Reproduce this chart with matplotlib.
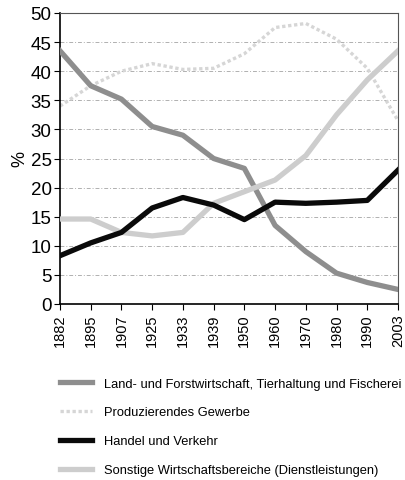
import matplotlib
matplotlib.use('Agg')
import matplotlib.pyplot as plt
import numpy as np

plt.rcParams['font.family'] = ['Liberation Sans', 'DejaVu Sans']

# Jahre (kategoriale x-Achse)
years = ['1882', '1895', '1907', '1925', '1933', '1939',
         '1950', '1960', '1970', '1980', '1990', '2003']

# Anteile der Wirtschaftsbereiche in %
land = [43.5, 37.5, 35.2, 30.5, 29.0, 25.0, 23.3, 13.5, 9.0, 5.3, 3.7, 2.5]
produzierend = [34.0, 37.5, 40.0, 41.3, 40.3, 40.5, 43.0, 47.5, 48.2, 45.5, 40.5, 31.5]
handel = [8.3, 10.5, 12.3, 16.5, 18.3, 17.0, 14.5, 17.5, 17.3, 17.5, 17.8, 23.0]
sonstige = [14.6, 14.6, 12.3, 11.7, 12.3, 17.3, 19.3, 21.3, 25.5, 32.5, 38.5, 43.5]

labels = ['Land- und Forstwirtschaft, Tierhaltung und Fischerei',
          'Produzierendes Gewerbe',
          'Handel und Verkehr',
          'Sonstige Wirtschaftsbereiche (Dienstleistungen)']

fig = plt.figure(figsize=(4.06, 4.81), dpi=100)
ax = fig.add_axes([60 / 406, 1 - 305 / 481, 338 / 406, 291 / 481])

x = np.arange(len(years))

# Gitterlinien
for yv in range(5, 51, 5):
    ax.axhline(yv, color='#b0b0b0', lw=0.7, ls=(0, (4, 2, 1, 2)), zorder=1)

l1, = ax.plot(x, land, color='#8e8e8e', lw=3.8, solid_joinstyle='round', zorder=3)
l2, = ax.plot(x, produzierend, color='#d6d6d6', lw=2.4, ls=(0, (1, 0.8)), zorder=2)
l3, = ax.plot(x, handel, color='#0a0a0a', lw=3.8, solid_joinstyle='round', zorder=4)
l4, = ax.plot(x, sonstige, color='#cdcdcd', lw=3.8, solid_joinstyle='round', zorder=3)

ax.set_xlim(0, len(years) - 1)
ax.set_ylim(0, 50)
ax.set_yticks(range(0, 51, 5))
ax.set_xticks(x)
ax.set_xticklabels(years, rotation=90, fontsize=10.5)
ax.tick_params(axis='y', labelsize=13.5, length=4, width=0.8, pad=2)
ax.tick_params(axis='x', length=4, width=0.8, pad=3)
ax.set_ylabel('%', fontsize=13, labelpad=2)

ax.spines['left'].set_linewidth(1.2)
ax.spines['bottom'].set_linewidth(1.2)
ax.spines['top'].set_color('#555555')
ax.spines['top'].set_linewidth(0.8)
ax.spines['right'].set_color('#555555')
ax.spines['right'].set_linewidth(0.8)

fig.legend([l1, l2, l3, l4], labels, loc='upper left',
           bbox_to_anchor=(48 / 406, 1 - 367 / 481), frameon=False,
           fontsize=9.3, handlelength=2.5, handletextpad=0.9,
           labelspacing=1.3)

fig.savefig('out.png', dpi=100)
